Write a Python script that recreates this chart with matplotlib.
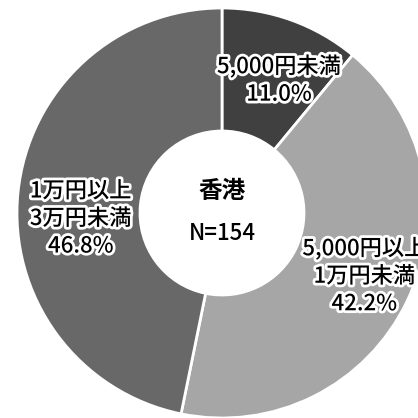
import matplotlib.pyplot as plt
import matplotlib.patheffects as pe
import numpy as np

plt.rcParams['font.family'] = ['Noto Sans CJK JP', 'DejaVu Sans']

labels = ['5,000円未満', '5,000円以上\n1万円未満', '1万円以上\n3万円未満']
values = [11.0, 42.2, 46.8]
colors = ['#404040', '#a6a6a6', '#686868']
title = '香港'
n_text = 'N=154'

# label placement tweaks (radius fraction, angle nudge in degrees)
label_r = [0.705, 0.76, 0.69]
label_nudge = [-3.4, 1.6, 8]

fig = plt.figure(figsize=(4.18, 4.18), dpi=100)
ax = fig.add_axes([0, 0, 1, 1])

cx, cy, R = 222, 205, 205
wedges, _ = ax.pie(values, colors=colors, startangle=90, counterclock=False,
                   center=(cx, cy), radius=R, frame=True,
                   wedgeprops=dict(width=R * 0.6, edgecolor='white', linewidth=2))
ax.set_xlim(0, 418)
ax.set_ylim(0, 418)
ax.set_aspect('equal')
ax.axis('off')

glow = [pe.withStroke(linewidth=4, foreground='white')]
for w, lab, v, r, d in zip(wedges, labels, values, label_r, label_nudge):
    ang = np.deg2rad((w.theta1 + w.theta2) / 2 + d)
    x = cx + r * R * np.cos(ang)
    y = cy + r * R * np.sin(ang)
    ax.text(x, y, f'{lab}\n{v:.1f}%', ha='center', va='center', fontsize=16,
            linespacing=1.25, color='black', fontweight='medium', path_effects=glow)

ax.text(cx, cy + 22, title, ha='center', va='center', fontsize=17, fontweight='bold')
ax.text(cx, cy - 20, n_text, ha='center', va='center', fontsize=16, fontweight='medium')

fig.savefig('out.png', dpi=100)
